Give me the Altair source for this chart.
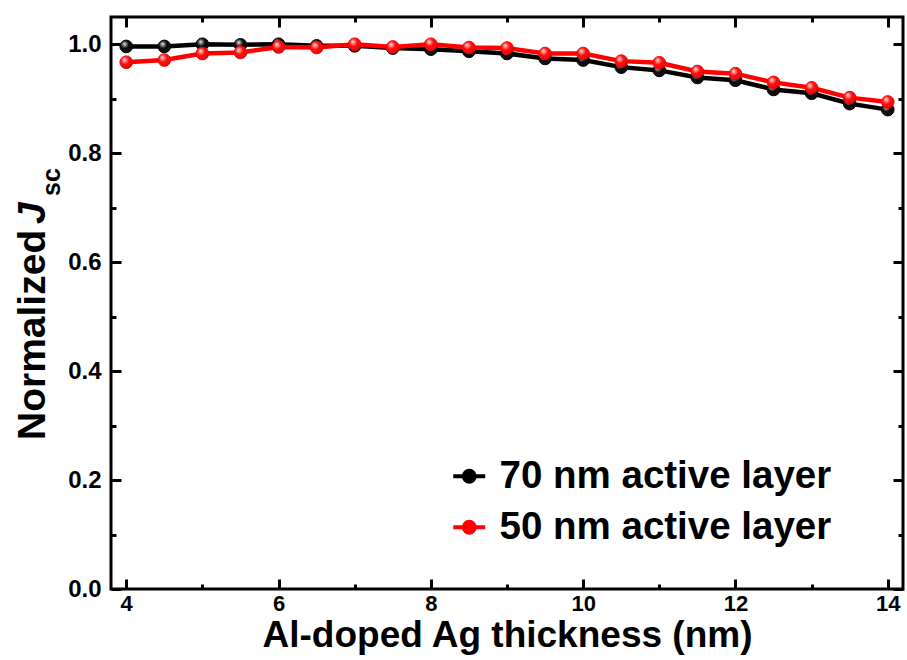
import altair as alt
import pandas as pd

# ---- data ----
thickness = [4, 4.5, 5, 5.5, 6, 6.5, 7, 7.5, 8, 8.5, 9, 9.5, 10, 10.5, 11, 11.5, 12, 12.5, 13, 13.5, 14]
jsc_70 = [0.996, 0.996, 1.000, 0.999, 1.000, 0.997, 0.997, 0.993, 0.991, 0.987, 0.983,
          0.974, 0.971, 0.958, 0.952, 0.939, 0.934, 0.917, 0.910, 0.891, 0.880]
jsc_50 = [0.967, 0.971, 0.983, 0.985, 0.995, 0.994, 1.000, 0.995, 1.000, 0.994, 0.993,
          0.983, 0.983, 0.969, 0.966, 0.950, 0.946, 0.930, 0.920, 0.902, 0.894]
series_names = ["70 nm active layer", "50 nm active layer"]
series_colors = ["#000000", "#ff0000"]

x_major = [4, 6, 8, 10, 12, 14]
x_minor = [5, 7, 9, 11, 13]
y_major = [0.0, 0.2, 0.4, 0.6, 0.8, 1.0]
y_minor = [0.1, 0.3, 0.5, 0.7, 0.9]

x_title = "Al-doped Ag thickness (nm)"
y_title_main = "Normalized"
y_title_j = "J"
y_title_sub = "sc"

W, H = 792, 572
FONT = "Liberation Sans"

rows = []
for name, vals in zip(series_names, [jsc_70, jsc_50]):
    for t, v in zip(thickness, vals):
        rows.append({"thickness": t, "jsc": v, "series": name})
df = pd.DataFrame(rows)

xs = alt.Scale(domain=[3.8, 14.2], nice=False, zero=False)
ys = alt.Scale(domain=[0, 1.05], nice=False, zero=False)
cs = alt.Scale(domain=series_names, range=series_colors)


def tick_axis(orient, offset, values, size):
    return alt.Axis(orient=orient, offset=offset, values=values, labels=False, domain=False,
                    ticks=True, tickSize=size, tickWidth=3, tickColor="black",
                    title=None, grid=False)


x_main = alt.Axis(orient="bottom", values=x_major, ticks=False, tickSize=0, domain=False, grid=False,
                  labelFont=FONT, labelFontSize=22, labelFontWeight="bold", labelColor="black",
                  labelPadding=4, labelFlush=False,
                  title=x_title, titleFont=FONT, titleFontSize=37, titleFontWeight="bold",
                  titleColor="black", titlePadding=3)
y_main = alt.Axis(orient="left", values=y_major, format=".1f", ticks=False, tickSize=0, domain=False,
                  grid=False, labelFont=FONT, labelFontSize=24, labelFontWeight="bold",
                  labelColor="black", labelPadding=10, labelFlush=False, title=None)

legend = alt.Legend(
    title=None, orient="none", legendX=339, legendY=440,
    symbolType="M-1,0L1,0M0.34,0A0.34,0.34,0,1,1,-0.34,0A0.34,0.34,0,1,1,0.34,0Z",
    symbolSize=1024, symbolStrokeWidth=4,
    labelFont=FONT, labelFontSize=38.5, labelFontWeight="bold", labelColor="black",
    labelOffset=11, rowPadding=12, padding=0, labelLimit=500,
)

highlight = {
    "gradient": "radial",
    "x1": 0.36, "y1": 0.3, "r1": 0,
    "x2": 0.42, "y2": 0.4, "r2": 0.62,
    "stops": [
        {"offset": 0.0, "color": "rgba(255,255,255,0.95)"},
        {"offset": 0.25, "color": "rgba(255,255,255,0.45)"},
        {"offset": 0.55, "color": "rgba(255,255,255,0.0)"},
        {"offset": 1.0, "color": "rgba(0,0,0,0.25)"},
    ],
}


def series_layers(name, colour, axes):
    base = alt.Chart(df).transform_filter(alt.datum.series == name)
    (ax_l, ay_l), (ax_p, ay_p), (ax_h, ay_h) = axes
    line = base.mark_line(strokeWidth=4.5, color=colour).encode(
        x=alt.X("thickness:Q", scale=xs, axis=ax_l),
        y=alt.Y("jsc:Q", scale=ys, axis=ay_l),
    )
    pts = base.mark_point(filled=True, size=160, opacity=1, strokeWidth=1, shape="circle").encode(
        x=alt.X("thickness:Q", scale=xs, axis=ax_p),
        y=alt.Y("jsc:Q", scale=ys, axis=ay_p),
        fill=alt.Fill("series:N", scale=cs, legend=legend),
        stroke=alt.Stroke("series:N", scale=cs, legend=legend),
    )
    hl = base.mark_point(filled=True, size=160, opacity=1, shape="circle", fill=highlight,
                         strokeWidth=0).encode(
        x=alt.X("thickness:Q", scale=xs, axis=ax_h),
        y=alt.Y("jsc:Q", scale=ys, axis=ay_h),
    )
    return [line, pts, hl]


axes_70 = [
    (x_main, y_main),
    (tick_axis("top", -H, x_major, 10), tick_axis("right", -W, y_major, 10)),
    (tick_axis("top", -H, x_minor, 5), tick_axis("right", -W, y_minor, 5)),
]
axes_50 = [
    (tick_axis("bottom", -H, x_major, 10), tick_axis("left", -W, y_major, 10)),
    (tick_axis("bottom", -H, x_minor, 5), tick_axis("left", -W, y_minor, 5)),
    (None, None),
]

title_df = pd.DataFrame({"a": [y_title_main], "b": [y_title_j], "c": [y_title_sub]})
t_main = alt.Chart(title_df).mark_text(angle=270, align="left", baseline="alphabetic", font=FONT,
                                       fontSize=39, fontWeight="bold", color="black").encode(
    text="a:N", x=alt.value(-66), y=alt.value(423))
t_j = alt.Chart(title_df).mark_text(angle=270, align="left", baseline="alphabetic", font=FONT,
                                    fontSize=39, fontWeight="bold", fontStyle="italic",
                                    color="black").encode(
    text="b:N", x=alt.value(-66), y=alt.value(207))
t_sub = alt.Chart(title_df).mark_text(angle=270, align="left", baseline="alphabetic", font=FONT,
                                      fontSize=25, fontWeight="bold", color="black").encode(
    text="c:N", x=alt.value(-51), y=alt.value(179))

layers = (series_layers(series_names[0], series_colors[0], axes_70)
          + series_layers(series_names[1], series_colors[1], axes_50))
chart = alt.layer(*layers, t_main, t_j, t_sub).resolve_axis(
    x="independent", y="independent"
).properties(
    width=W, height=H,
    autosize=alt.AutoSizeParams(type="none"),
    padding={"left": 111, "top": 17, "right": 4, "bottom": 71},
    background="white",
).configure_view(stroke="black", strokeWidth=3)

chart.save("out.html", embed_options={"renderer": "svg", "actions": False})
